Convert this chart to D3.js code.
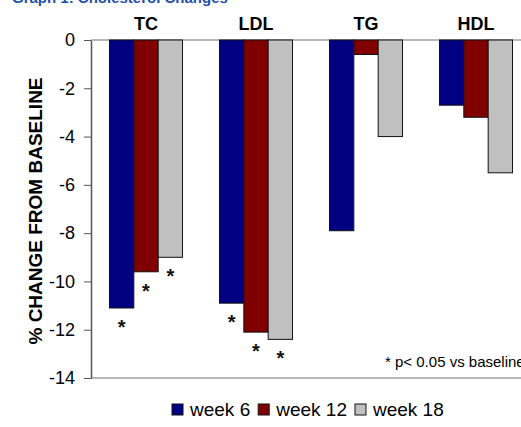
<!DOCTYPE html>
<html>
<head>
<meta charset="utf-8">
<script src="https://cdn.jsdelivr.net/npm/d3@7"></script>
<style>
  html, body { margin: 0; padding: 0; background: #fff; overflow: hidden; }
  svg { display: block; font-family: Arial, "Liberation Sans", sans-serif; }
</style>
</head>
<body>
<svg id="chart" width="521" height="427"></svg>
<script>
const categories = ["TC", "LDL", "TG", "HDL"];
const seriesNames = ["week 6", "week 12", "week 18"];
const week6  = [-11.1, -10.9, -7.9, -2.7];
const week12 = [-9.6, -12.1, -0.6, -3.2];
const week18 = [-9.0, -12.4, -4.0, -5.5];
const significant6  = [true, true, false, false];
const significant12 = [true, true, false, false];
const significant18 = [true, true, false, false];
const yTicks = [0, -2, -4, -6, -8, -10, -12, -14];
const colors = ["#000080", "#800000", "#c0c0c0"];

const values = [week6, week12, week18];
const sigs = [significant6, significant12, significant18];

const svg = d3.select("#chart");
const plotLeft = 91, plotRight = 531, plotTop = 40, plotBottom = 378;

const y = d3.scaleLinear().domain([-14, 0]).range([plotBottom, plotTop]);
const x0 = d3.scaleBand().domain(categories).range([plotLeft, plotRight])
  .paddingInner(0.336).paddingOuter(0.168);
const x1 = d3.scaleBand().domain(seriesNames).range([0, x0.bandwidth()]);

// title (partly cut off at top)
svg.append("text").attr("x", 12).attr("y", 3)
  .attr("fill", "#1f4fa8").attr("font-weight", "bold").attr("font-size", 15)
  .text("Graph 1: Cholesterol Changes");

// top (zero) and bottom lines
svg.append("line").attr("x1", plotLeft).attr("x2", 521).attr("y1", y(0)).attr("y2", y(0))
  .attr("stroke", "#a0a0a0").attr("stroke-width", 1.5);
svg.append("line").attr("x1", plotLeft).attr("x2", 521).attr("y1", y(-14)).attr("y2", y(-14))
  .attr("stroke", "#a0a0a0").attr("stroke-width", 1.5);

// bars
const rows = [];
categories.forEach((c, i) => seriesNames.forEach((s, j) => rows.push({c, s, j, v: values[j][i], sig: sigs[j][i]})));

svg.append("g").selectAll("rect").data(rows).join("rect")
  .attr("x", d => x0(d.c) + x1(d.s))
  .attr("y", d => y(0))
  .attr("width", x1.bandwidth())
  .attr("height", d => y(d.v) - y(0))
  .attr("fill", d => colors[d.j])
  .attr("stroke", "#111").attr("stroke-width", 1);

// significance stars
svg.append("g").selectAll("text").data(rows.filter(d => d.sig)).join("text")
  .attr("x", d => x0(d.c) + x1(d.s) + x1.bandwidth() / 2)
  .attr("y", d => y(d.v) + 15 + 11)
  .attr("text-anchor", "middle").attr("font-size", 20).attr("font-weight", "bold")
  .attr("fill", "#111")
  .text("*");

// y axis
const yAxis = d3.axisLeft(y).tickValues(yTicks).tickSize(7).tickSizeOuter(0).tickPadding(9)
  .tickFormat(d3.format("d"));
const ga = svg.append("g").attr("transform", `translate(${plotLeft},0)`).call(yAxis);
ga.select(".domain").attr("stroke", "#555").attr("stroke-width", 1.5);
ga.selectAll(".tick line").attr("stroke", "#555");
ga.selectAll(".tick text").attr("font-size", 18).attr("fill", "#000")
  .attr("font-family", "Arial, 'Liberation Sans', sans-serif")
  .text(d => d === 0 ? "0" : "-" + Math.abs(d));

// category labels on top
svg.append("g").selectAll("text").data(categories).join("text")
  .attr("x", d => x0(d) + x0.bandwidth() / 2)
  .attr("y", 30)
  .attr("text-anchor", "middle").attr("font-size", 18).attr("font-weight", "bold")
  .text(d => d);

// y axis title
svg.append("text")
  .attr("transform", `translate(42, ${(72 + 350) / 2}) rotate(-90)`)
  .attr("text-anchor", "middle").attr("font-size", 19).attr("font-weight", "bold")
  .text("% CHANGE FROM BASELINE");

// footnote
svg.append("text").attr("x", 385).attr("y", 367)
  .attr("font-size", 15).attr("fill", "#000")
  .text("* p< 0.05 vs baseline");

// legend
const lg = svg.append("g").attr("transform", "translate(172, 404)");
let lx = 0;
seriesNames.forEach((s, j) => {
  const g = lg.append("g").attr("transform", `translate(${lx},0)`);
  g.append("rect").attr("x", 0).attr("y", 0).attr("width", 11).attr("height", 11)
    .attr("fill", colors[j]).attr("stroke", "#111").attr("stroke-width", 1);
  const t = g.append("text").attr("x", 18).attr("y", 12).attr("font-size", 19).text(s);
  lx += 18 + t.node().getComputedTextLength() + 8;
});
</script>
</body>
</html>
